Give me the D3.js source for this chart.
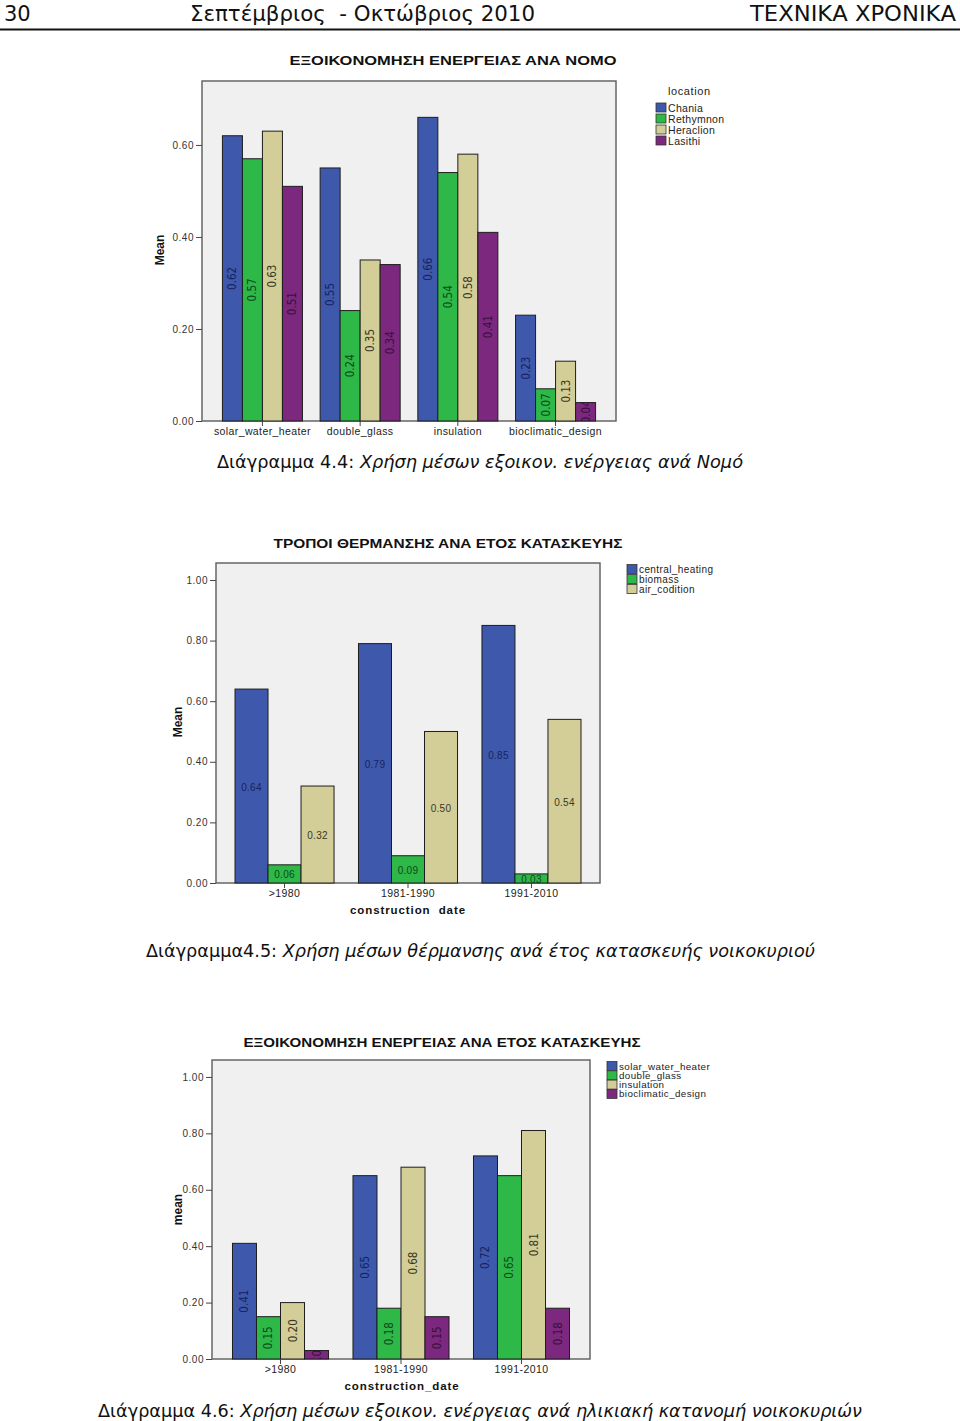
<!DOCTYPE html>
<html>
<head>
<meta charset="utf-8">
<script src="https://cdn.jsdelivr.net/npm/d3@7/dist/d3.min.js"></script>
<style>
  html, body { margin: 0; padding: 0; background: #fff; }
  svg { display: block; }
  text { white-space: pre; }
</style>
</head>
<body>
<svg id="page" width="960" height="1421"></svg>
<script>
// ---------------- DATA ----------------
const headerPage = "30";
const headerDate = "Σεπτέμβριος  - Οκτώβριος 2010";
const headerJournal = "ΤΕΧΝΙΚΑ ΧΡΟΝΙΚΑ";

// Chart 1
const c1Title = "ΕΞΟΙΚΟΝΟΜΗΣΗ ΕΝΕΡΓΕΙΑΣ ΑΝΑ ΝΟΜΟ";
const c1Categories = ["solar_water_heater", "double_glass", "insulation", "bioclimatic_design"];
const c1Series = ["Chania", "Rethymnon", "Heraclion", "Lasithi"];
const c1Chania    = [0.62, 0.55, 0.66, 0.23];
const c1Rethymnon = [0.57, 0.24, 0.54, 0.07];
const c1Heraclion = [0.63, 0.35, 0.58, 0.13];
const c1Lasithi   = [0.51, 0.34, 0.41, 0.04];
const c1Ticks = [0.00, 0.20, 0.40, 0.60];
const c1YLabel = "Mean";
const c1LegendTitle = "location";
const c1Caption = ["Διάγραμμα 4.4: ", "Χρήση μέσων εξοικον. ενέργειας ανά Νομό"];

// Chart 2
const c2Title = "ΤΡΟΠΟΙ ΘΕΡΜΑΝΣΗΣ ΑΝΑ ΕΤΟΣ ΚΑΤΑΣΚΕΥΗΣ";
const c2Categories = [">1980", "1981-1990", "1991-2010"];
const c2Series = ["central_heating", "biomass", "air_codition"];
const c2Central = [0.64, 0.79, 0.85];
const c2Biomass = [0.06, 0.09, 0.03];
const c2Air     = [0.32, 0.50, 0.54];
const c2Ticks = [0.00, 0.20, 0.40, 0.60, 0.80, 1.00];
const c2YLabel = "Mean";
const c2XLabel = "construction  date";
const c2Caption = ["Διάγραμμα4.5: ", "Χρήση μέσων θέρμανσης ανά έτος κατασκευής νοικοκυριού"];

// Chart 3
const c3Title = "ΕΞΟΙΚΟΝΟΜΗΣΗ ΕΝΕΡΓΕΙΑΣ ΑΝΑ ΕΤΟΣ ΚΑΤΑΣΚΕΥΗΣ";
const c3Categories = [">1980", "1981-1990", "1991-2010"];
const c3Series = ["solar_water_heater", "double_glass", "insulation", "bioclimatic_design"];
const c3Solar  = [0.41, 0.65, 0.72];
const c3Double = [0.15, 0.18, 0.65];
const c3Insul  = [0.20, 0.68, 0.81];
const c3Bioc   = [0.03, 0.15, 0.18];
const c3Ticks = [0.00, 0.20, 0.40, 0.60, 0.80, 1.00];
const c3YLabel = "mean";
const c3XLabel = "construction_date";
const c3Caption = ["Διάγραμμα 4.6: ", "Χρήση μέσων εξοικον. ενέργειας ανά ηλικιακή κατανομή νοικοκυριών"];

// ---------------- STYLE ----------------
const fills = ["#3e58ac", "#2eb848", "#d3ce97", "#7b287e"];
const labelInk = ["#17245e", "#0d4a1b", "#3a3826", "#38103c"];
const sansUI = "'Liberation Sans', Arial, sans-serif";
const narrow = "'Liberation Sans Narrow', 'DejaVu Sans Condensed', 'Liberation Sans', sans-serif";
const verdana = "'DejaVu Sans', Verdana, sans-serif";

const svg = d3.select("#page");
const defs = svg.append("defs");

// ---------------- HEADER ----------------
svg.append("text").attr("x", 4).attr("y", 21).attr("font-family", verdana).attr("font-size", 21)
  .attr("fill", "#111").text(headerPage);
svg.append("text").attr("x", 190).attr("y", 21).attr("font-family", verdana).attr("font-size", 21)
  .attr("fill", "#111").attr("textLength", 345).attr("lengthAdjust", "spacingAndGlyphs").text(headerDate);
svg.append("text").attr("x", 956).attr("y", 21).attr("text-anchor", "end").attr("font-family", verdana)
  .attr("font-size", 21).attr("fill", "#111").attr("textLength", 206).attr("lengthAdjust", "spacingAndGlyphs")
  .text(headerJournal);
svg.append("line").attr("x1", 0).attr("x2", 960).attr("y1", 29.5).attr("y2", 29.5)
  .attr("stroke", "#111").attr("stroke-width", 2);

// ---------------- CHART FUNCTION ----------------
function drawChart(cfg) {
  const g = svg.append("g");
  const { left, right, top, bottom } = cfg.plot;

  const x = d3.scaleBand().domain(cfg.categories).range([left, right])
    .paddingInner(cfg.padInner).paddingOuter(cfg.padOuter);
  const xs = d3.scaleBand().domain(cfg.series).range([0, x.bandwidth()]);
  const y = d3.scaleLinear().domain([0, cfg.yMax]).range([bottom, top]);

  // title
  g.append("text").attr("x", cfg.titleX).attr("y", cfg.titleY).attr("text-anchor", "middle")
    .attr("font-family", sansUI).attr("font-weight", "bold").attr("font-size", 13.5)
    .attr("fill", "#111").attr("textLength", cfg.titleW).attr("lengthAdjust", "spacingAndGlyphs")
    .text(cfg.title);

  // plot background
  g.append("rect").attr("x", left).attr("y", top).attr("width", right - left).attr("height", bottom - top)
    .attr("fill", "#f0f0f0").attr("stroke", "#666").attr("stroke-width", 1.5);

  // bars
  const rows = [];
  cfg.categories.forEach((c, i) => {
    cfg.series.forEach((s, j) => {
      rows.push({ cat: c, ser: s, j: j, v: cfg.values[j][i] });
    });
  });

  rows.forEach((d, k) => {
    const bx = x(d.cat) + xs(d.ser);
    const by = y(d.v);
    const bw = xs.bandwidth();
    const bh = y(0) - y(d.v);
    g.append("rect").attr("x", bx).attr("y", by).attr("width", bw).attr("height", bh)
      .attr("fill", fills[d.j]).attr("stroke", "#1e1e1e").attr("stroke-width", 1);
    const cid = cfg.id + "clip" + k;
    defs.append("clipPath").attr("id", cid).append("rect")
      .attr("x", bx).attr("y", by).attr("width", bw).attr("height", bh);
    const cx = bx + bw / 2, cy = by + bh / 2;
    const holder = g.append("g").attr("clip-path", `url(#${cid})`);
    const t = holder.append("text")
      .attr("fill", labelInk[d.j]).attr("text-anchor", "middle").attr("dominant-baseline", "central");
    if (cfg.vertical) {
      t.attr("transform", `translate(${cx},${cy}) rotate(-90)`)
        .attr("font-family", narrow).attr("font-size", 11.5).text(d.v.toFixed(2));
    } else {
      t.attr("x", cx).attr("y", cy + 1).attr("font-family", sansUI).attr("font-size", 10)
        .attr("letter-spacing", 0.3).text(d.v.toFixed(2));
    }
  });

  // y axis
  const yAxis = d3.axisLeft(y).tickValues(cfg.ticks).tickFormat(d3.format(".2f")).tickSize(6).tickPadding(2);
  const ya = g.append("g").attr("transform", `translate(${left},0)`).call(yAxis);
  ya.select(".domain").remove();
  ya.selectAll("line").attr("stroke", "#444");
  ya.selectAll("text").attr("font-family", sansUI).attr("font-size", 10).attr("letter-spacing", 0.5)
    .attr("fill", "#333");

  // x axis
  const xAxis = d3.axisBottom(x).tickSize(5).tickPadding(cfg.xPad);
  const xa = g.append("g").attr("transform", `translate(0,${bottom})`).call(xAxis);
  xa.select(".domain").remove();
  xa.selectAll("line").attr("stroke", "#444");
  xa.selectAll("text").attr("font-family", sansUI).attr("font-size", 10.5).attr("letter-spacing", 0.4)
    .attr("fill", "#222").attr("dy", "0.71em");

  // y label
  g.append("text").attr("transform", `translate(${cfg.yLabelX},${(top + bottom) / 2 + cfg.yLabelDy}) rotate(-90)`)
    .attr("text-anchor", "middle").attr("font-family", sansUI).attr("font-weight", "bold")
    .attr("font-size", 12).attr("fill", "#111").text(cfg.yLabel);

  // x label
  if (cfg.xLabel) {
    g.append("text").attr("x", cfg.xLabelX).attr("y", cfg.xLabelY).attr("text-anchor", "middle")
      .attr("font-family", sansUI).attr("font-weight", "bold").attr("font-size", 11.5)
      .attr("letter-spacing", 0.9).attr("fill", "#111").text(cfg.xLabel);
  }

  // legend
  const L = cfg.legend;
  if (L.title) {
    g.append("text").attr("x", L.x + 12).attr("y", L.titleY).attr("font-family", sansUI)
      .attr("font-size", 11).attr("letter-spacing", 0.6).attr("fill", "#222").text(L.title);
  }
  cfg.series.forEach((s, j) => {
    const cy = L.y0 + j * L.dy;
    g.append("rect").attr("x", L.x).attr("y", cy - 4.5).attr("width", 10).attr("height", 9)
      .attr("fill", fills[j]).attr("stroke", "#333").attr("stroke-width", 0.8);
    g.append("text").attr("x", L.x + 12).attr("y", cy).attr("dominant-baseline", "central")
      .attr("font-family", sansUI).attr("font-size", L.fs).attr("letter-spacing", L.ls)
      .attr("fill", "#222").text(s);
  });

  // caption
  const cap = svg.append("text").attr("x", cfg.capX).attr("y", cfg.capY).attr("font-family", verdana)
    .attr("font-size", 18).attr("fill", "#111").attr("textLength", cfg.capW)
    .attr("lengthAdjust", "spacingAndGlyphs");
  cap.append("tspan").text(cfg.caption[0]);
  cap.append("tspan").attr("font-style", "italic").text(cfg.caption[1]);
}

drawChart({
  id: "c1", title: c1Title, titleX: 453, titleY: 65, titleW: 327,
  categories: c1Categories, series: c1Series,
  values: [c1Chania, c1Rethymnon, c1Heraclion, c1Lasithi],
  plot: { left: 202, right: 616, top: 81, bottom: 421 }, yMax: 0.739,
  padInner: 0.181, padOuter: 0.209, ticks: c1Ticks, vertical: true, xPad: 2,
  yLabel: c1YLabel, yLabelX: 164, yLabelDy: -1,
  legend: { x: 656, y0: 107.5, dy: 11, fs: 10.5, ls: 0.3, title: c1LegendTitle, titleY: 95 },
  caption: c1Caption, capX: 217, capY: 468, capW: 526
});

drawChart({
  id: "c2", title: c2Title, titleX: 448, titleY: 548, titleW: 349,
  categories: c2Categories, series: c2Series,
  values: [c2Central, c2Biomass, c2Air],
  plot: { left: 216, right: 600, top: 563, bottom: 883 }, yMax: 1.056,
  padInner: 0.198, padOuter: 0.154, ticks: c2Ticks, vertical: false, xPad: 2,
  yLabel: c2YLabel, yLabelX: 182, yLabelDy: -1,
  xLabel: c2XLabel, xLabelX: 408, xLabelY: 914,
  legend: { x: 627, y0: 569, dy: 10, fs: 10, ls: 0.4 },
  caption: c2Caption, capX: 146, capY: 957, capW: 669
});

drawChart({
  id: "c3", title: c3Title, titleX: 442, titleY: 1047, titleW: 397,
  categories: c3Categories, series: c3Series,
  values: [c3Solar, c3Double, c3Insul, c3Bioc],
  plot: { left: 212, right: 590, top: 1060, bottom: 1359 }, yMax: 1.06,
  padInner: 0.203, padOuter: 0.17, ticks: c3Ticks, vertical: true, xPad: 1.5,
  yLabel: c3YLabel, yLabelX: 182, yLabelDy: 0,
  xLabel: c3XLabel, xLabelX: 402, xLabelY: 1390,
  legend: { x: 607, y0: 1066, dy: 9.3, fs: 9.8, ls: 0.4 },
  caption: c3Caption, capX: 98, capY: 1417, capW: 764
});
</script>
</body>
</html>
